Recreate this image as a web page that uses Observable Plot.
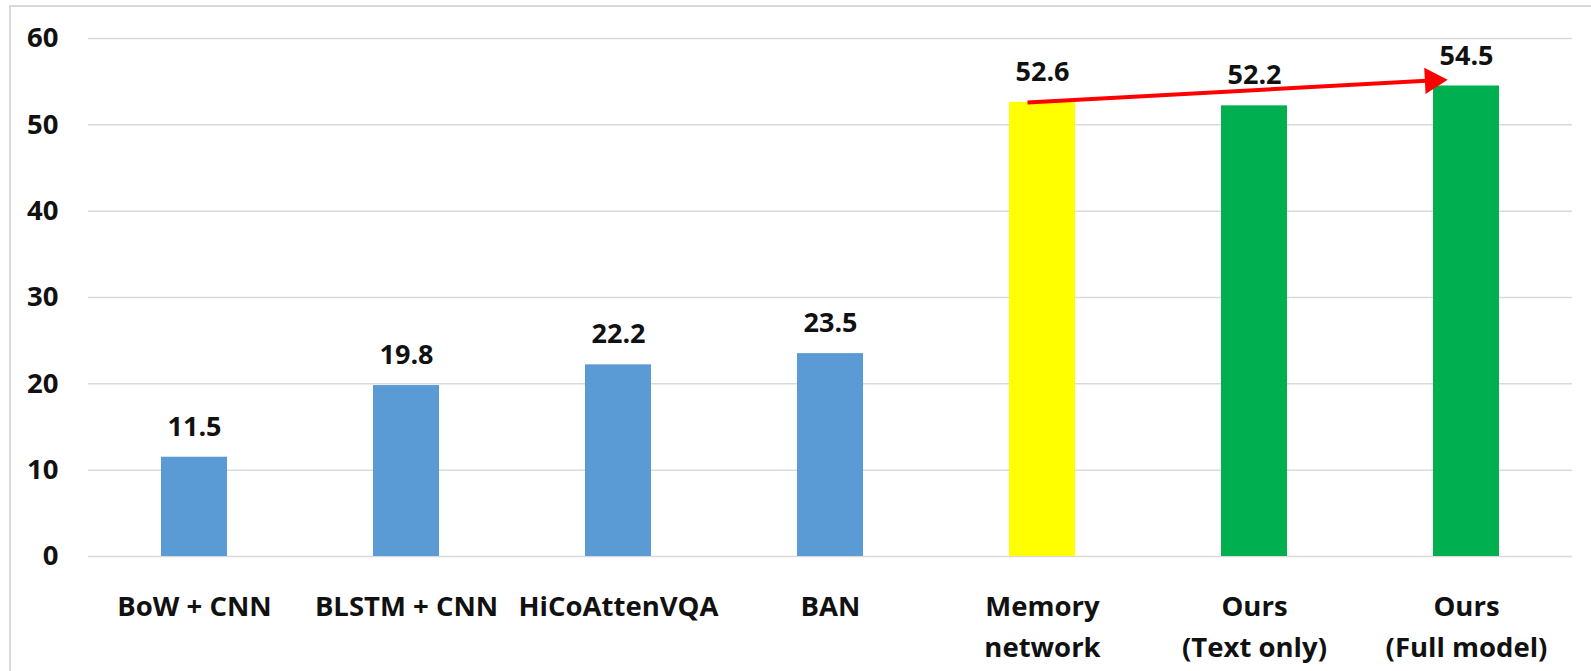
<!DOCTYPE html>
<html><head><meta charset="utf-8">
<script src="https://cdn.jsdelivr.net/npm/d3@7"></script>
<script src="https://cdn.jsdelivr.net/npm/@observablehq/plot@0.6"></script>
<style>
body{margin:0;background:#fff;}
#wrap{position:relative;width:1591px;height:671px;overflow:hidden;background:#fff;}
#frame{position:absolute;left:9px;top:5px;width:1600px;height:700px;border:2px solid #d9d9d9;box-sizing:border-box;}
#chart{position:absolute;left:0;top:0;}
</style></head><body>
<div id="wrap"><div id="frame"></div><div id="chart"></div></div>
<script>
const methods = ["BoW + CNN", "BLSTM + CNN", "HiCoAttenVQA", "BAN", "Memory\nnetwork", "Ours\n(Text only)", "Ours\n(Full model)"];
const accuracy = [11.5, 19.8, 22.2, 23.5, 52.6, 52.2, 54.5];
const groups = ["baseline", "baseline", "baseline", "baseline", "memory", "ours", "ours"];
const groupColors = ["#5b9bd5", "#ffff00", "#00b050"];
const yTicks = [0, 10, 20, 30, 40, 50, 60];

const data = methods.map((m, i) => ({method: m, value: accuracy[i], group: groups[i]}));
// arrow from "Memory network" to "Ours (Full model)"
const arrowData = [{x1: methods[4], y1: accuracy[4], x2: methods[6], y2: accuracy[6] + 0.75}];

const plot = Plot.plot({
  width: 1591, height: 671,
  marginLeft: 88, marginRight: 19, marginTop: 38, marginBottom: 115,
  style: {fontFamily: "'Open Sans', sans-serif", fontSize: "27px", fontWeight: "bold", color: "#111", background: "transparent", overflow: "visible"},
  x: {domain: methods, paddingInner: 0.689, paddingOuter: 0.3445, label: null},
  y: {domain: [0, 60], label: null},
  color: {domain: ["baseline", "memory", "ours"], range: groupColors},
  marks: [
    Plot.gridY(yTicks, {stroke: "#d9d9d9", strokeOpacity: 1, strokeWidth: 1.5}),
    Plot.barY(data, {x: "method", y: "value", fill: "group"}),
    Plot.text(data, {x: "method", y: "value", text: d => d.value.toFixed(1), dy: -30, fill: "#111", fontSize: 27, fontWeight: "bold"}),
    Plot.arrow(arrowData, {x1: "x1", y1: "y1", x2: "x2", y2: "y2", stroke: "#ff0000", strokeWidth: 4, headLength: 0, insetEnd: 16, dx: -15, strokeLinecap: "butt"}),
    Plot.dot(arrowData, {x: "x2", y: "y2", symbol: "triangle", r: 9.8, fill: "#ff0000", stroke: "none", rotate: 87, dx: -34, dy: 1}),
    Plot.axisX({tickSize: 0, tickPadding: 30, lineHeight: 1.5, fontSize: 27.5, fontWeight: "bold", label: null}),
    Plot.axisY({ticks: yTicks, tickSize: 0, tickPadding: 30, fontSize: 27.5, fontWeight: "bold", label: null})
  ]
});
document.getElementById("chart").appendChild(plot);
</script>
</body></html>
